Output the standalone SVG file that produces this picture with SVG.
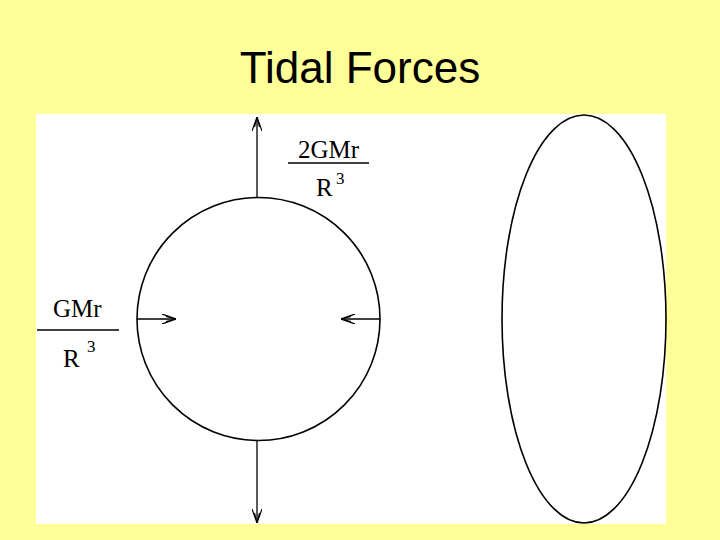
<svg xmlns="http://www.w3.org/2000/svg" width="720" height="540" viewBox="0 0 720 540">
<defs>
<style>
.ln{stroke:#000;stroke-width:1.3;fill:none}
.sh{stroke:#000;stroke-width:1.6;fill:none}
.t{font-family:"Liberation Serif",serif;font-size:25px;fill:#000}
.s{font-family:"Liberation Serif",serif;font-size:17px;fill:#000}
</style>
<marker id="ah" viewBox="0 0 14 10" refX="14" refY="5" markerWidth="14" markerHeight="10" markerUnits="userSpaceOnUse" orient="auto">
<path d="M0,0 L14,5 L0,10 M4,2.5 L14,5 L4,7.5" fill="none" stroke="#000" stroke-width="1.2"/>
</marker>
</defs>
<rect width="720" height="540" fill="#ffff99"/>
<rect x="36" y="114" width="630" height="410" fill="#ffffff"/>
<text x="360" y="83" text-anchor="middle" font-family="Liberation Sans,Arial,sans-serif" font-size="44" fill="#000">Tidal Forces</text>
<g id="earth"><circle cx="258.5" cy="319" r="121.5" class="sh"/></g>
<g id="stretched"><ellipse cx="584" cy="319" rx="82" ry="204" class="sh"/></g>
<g id="connectors">
<line x1="257" y1="197" x2="257" y2="117" class="ln" marker-end="url(#ah)"/>
<line x1="257" y1="441" x2="257" y2="523" class="ln" marker-end="url(#ah)"/>
<line x1="137" y1="319" x2="176" y2="319" class="ln" marker-end="url(#ah)"/>
<line x1="380" y1="319" x2="341" y2="319" class="ln" marker-end="url(#ah)"/>
</g>
<g id="label-top">
<text x="298" y="158" class="t">2GMr</text>
<line x1="288" y1="163" x2="369" y2="163" class="ln"/>
<text x="316" y="196" class="t">R</text>
<text x="336" y="184" class="s">3</text>
</g>
<g id="label-left">
<text x="53" y="317" class="t">GMr</text>
<line x1="37" y1="330" x2="119" y2="330" class="ln"/>
<text x="63" y="367" class="t">R</text>
<text x="87" y="352" class="s">3</text>
</g>
</svg>
